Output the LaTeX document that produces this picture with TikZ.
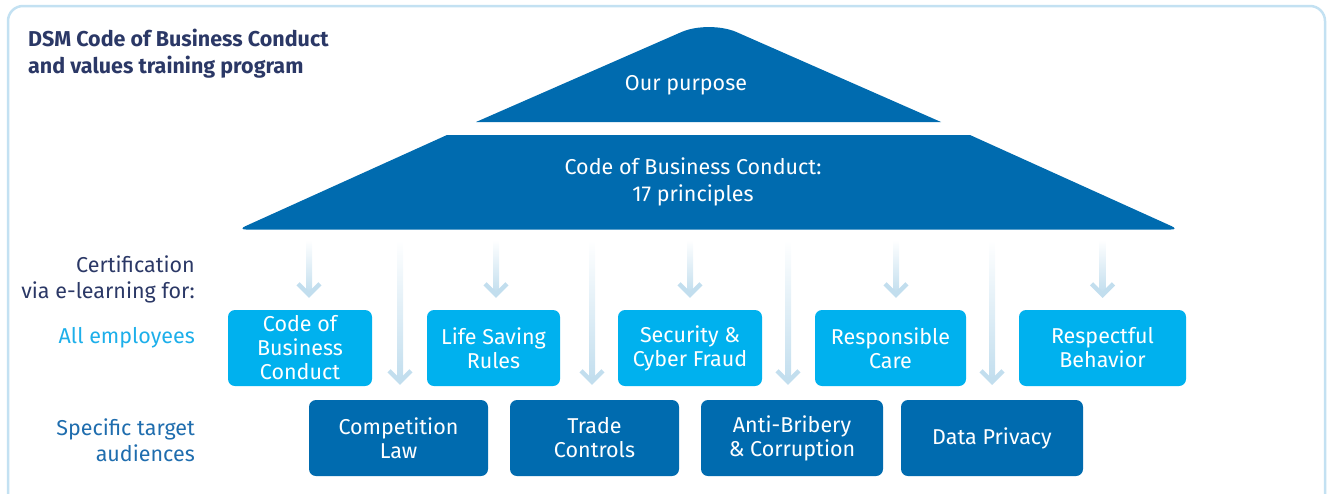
\documentclass[tikz,border=0pt]{standalone}
\usepackage{fontspec}
\setmainfont{Fira Sans}
\usetikzlibrary{calc}
\definecolor{dsmDeep}{HTML}{006BAF}
\definecolor{dsmCyan}{HTML}{00B1EE}
\definecolor{dsmNavy}{HTML}{2B3866}
\definecolor{dsmFrame}{HTML}{C3E1F2}
\definecolor{dsmArrow}{HTML}{C2DEEE}
\definecolor{dsmSky}{HTML}{1DAFEA}
\definecolor{dsmMid}{HTML}{1F6DAE}

\begin{document}
\begin{tikzpicture}[x=1pt, y=-1pt,
  box/.style={rounded corners=7pt, text=white, align=center, inner sep=0pt,
              minimum height=76pt, font=\fontsize{21.5}{24}\selectfont},
  lightbox/.style={box, fill=dsmCyan},
  darkbox/.style={box, fill=dsmDeep},
  roof/.style={fill=dsmDeep},
  rooftext/.style={text=white, align=center, font=\fontsize{21.5}{27}\selectfont},
  side/.style={anchor=east, align=right, inner sep=0pt, font=\fontsize{21.5}{26}\selectfont},
  chev/.style={draw=dsmArrow, line width=4.5pt, miter limit=4},
]

\useasboundingbox (0,0) rectangle (1328,493);
\draw[dsmFrame, line width=2.5pt, rounded corners=15pt] (8,6) rectangle (1325,520);

% title
\node[anchor=north west, align=left, inner sep=0pt, text=dsmNavy,
      font=\fontsize{21.5}{27}\selectfont\bfseries] (ttl) at (28,29)
  {DSM Code of Business Conduct\\and values training program};

% roof: purpose and code
\fill[roof] (476,122) [rounded corners=30pt] -- (709,20) [sharp corners] -- (941,122) -- cycle;
\node[rooftext] (purp) at (686,85) {Our purpose};
\fill[roof] (447,135) -- (970,135) {[rounded corners=8pt] -- (1179,229.5) -- (238,229.5)} -- cycle;
\node[rooftext] (code) at (693,182) {Code of Business Conduct:\\17 principles};

% left labels
\node[side, text=dsmNavy] (cert) at (195,279) {Certification\\via e-learning for:};
\node[side, text=dsmSky]  (allemp) at (195,338) {All employees};
\node[side, text=dsmMid]  (spec) at (195,440) {Specific target\\audiences};

% all employees
\node[lightbox, minimum width=144pt] (bCode) at (300,348)   {Code of\\Business\\Conduct};
\node[lightbox, minimum width=133pt] (bLife) at (493.5,348) {Life Saving\\Rules};
\node[lightbox, minimum width=144pt] (bSec)  at (690,348)   {Security \&\\Cyber Fraud};
\node[lightbox, minimum width=151pt] (bResp) at (890.5,348) {Responsible\\Care};
\node[lightbox, minimum width=167pt] (bBeh)  at (1102.5,348){Respectful\\Behavior};

% specific target audiences
\node[darkbox, minimum width=179pt] (bComp)  at (398.5,438) {Competition\\Law};
\node[darkbox, minimum width=169pt] (bTrade) at (594.5,438) {Trade\\Controls};
\node[darkbox, minimum width=182pt] (bBrib)  at (792,438)   {Anti-Bribery\\\& Corruption};
\node[darkbox, minimum width=182pt] (bPriv)  at (992,438)   {Data Privacy};

% arrows from the code down to the trainings
\coordinate (start) at (0,240);
\foreach \bx/\dx/\gap in {bCode/9/15, bLife/2.5/15, bSec/0/15, bResp/5.5/15, bBeh/0/15,
                          bComp/1.5/18, bTrade/-2.5/18, bBrib/-4/18, bPriv/0/18} {
  \path (\bx.north) ++(\dx,-\gap) coordinate (tip);
  \shade[top color=white, bottom color=dsmArrow]
    ($(tip |- start)+(-3,0)$) rectangle ($(tip)+(3,-2)$);
  \draw[chev] ($(tip)+(-11,-11)$) -- (tip) -- ($(tip)+(11,-11)$);
}

\end{tikzpicture}
\end{document}
